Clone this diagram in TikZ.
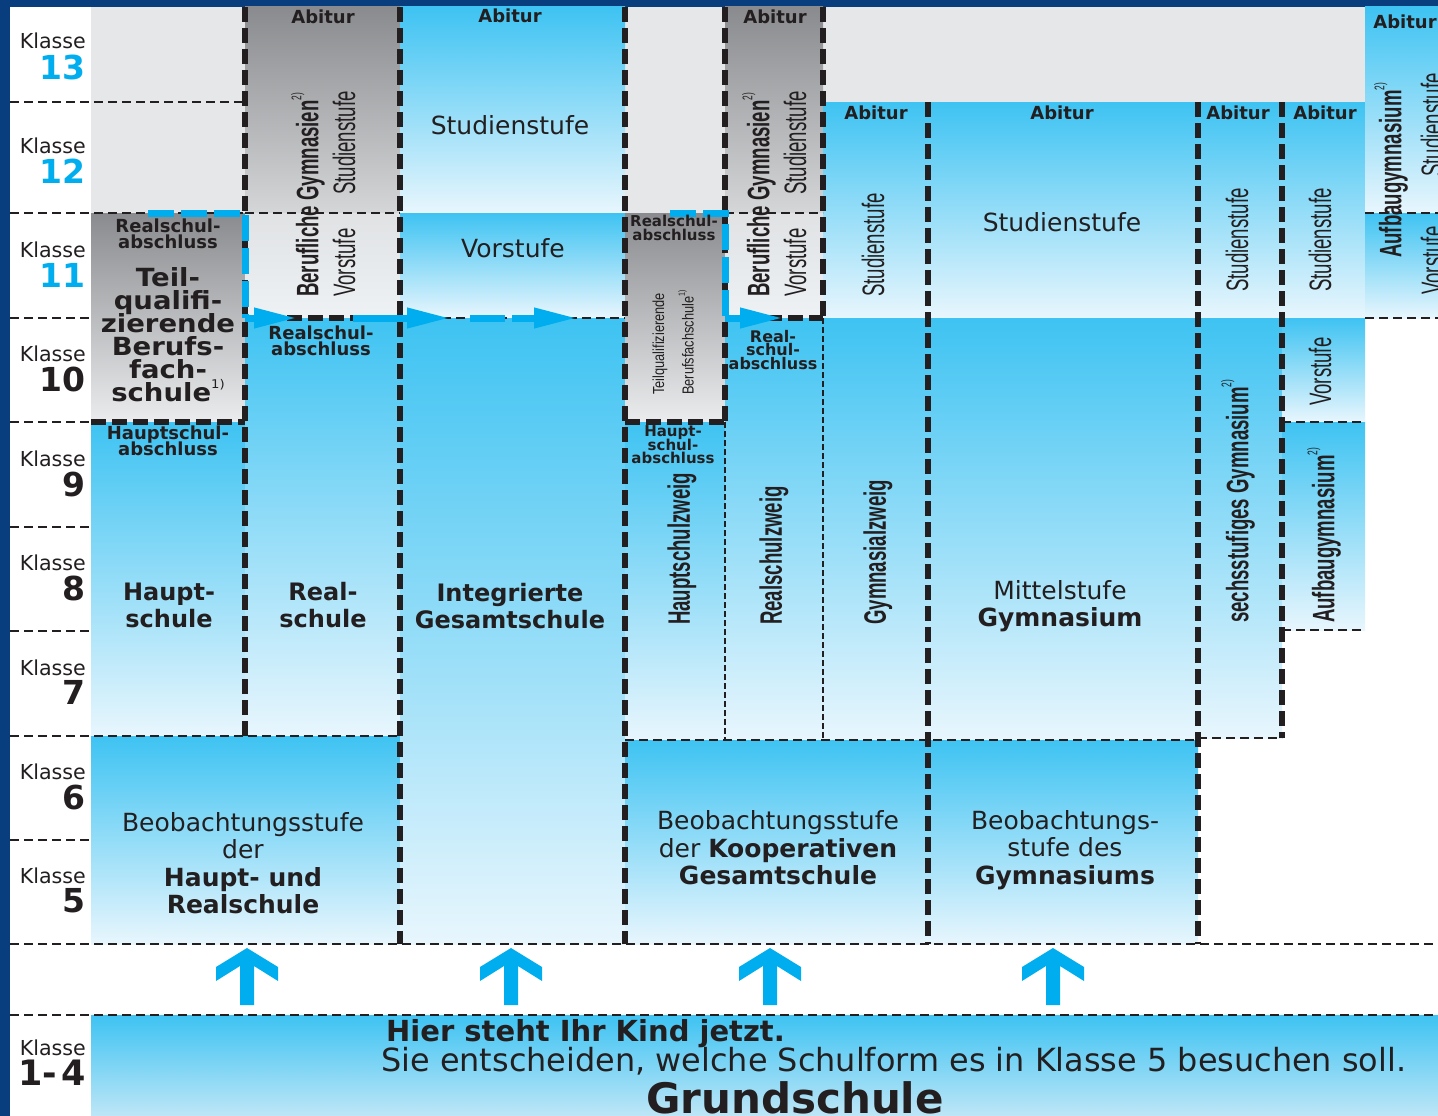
\documentclass[tikz,border=0pt]{standalone}
\usepackage{fontspec}
\setmainfont{DejaVu Sans}
\newfontfamily\condf{Liberation Sans}[FakeStretch=0.6]
\newfontfamily\condg{Liberation Sans}[FakeStretch=0.8]
\newfontfamily\widef{DejaVu Sans}[FakeStretch=1.1]
\usetikzlibrary{arrows.meta}
\newcommand\fsz[2]{\fontsize{#1}{#2}\selectfont\lineskiplimit=-100pt\relax}
\newcommand\sups[2][11]{\raisebox{0.55em}{\mdseries\fontsize{#1}{#1}\selectfont #2}}
\definecolor{cyanT}{RGB}{62,195,242}
\definecolor{cyanB}{RGB}{232,246,253}
\definecolor{grayT}{RGB}{138,139,142}
\definecolor{grayB}{RGB}{234,236,238}
\definecolor{grayM}{RGB}{212,214,216}
\definecolor{vorT}{RGB}{224,226,228}
\definecolor{vorB}{RGB}{238,242,245}
\definecolor{bgGray}{RGB}{230,231,233}
\definecolor{navy}{RGB}{8,62,125}
\definecolor{arr}{RGB}{0,174,239}
\definecolor{txt}{RGB}{35,31,32}
\tikzset{
  t/.style={inner sep=0pt, text=txt, align=center},
  lblK/.style={t, anchor=east, font=\fsz{20.6}{22}},
  lblN/.style={t, anchor=east, font=\bfseries\fsz{33}{33}},
  lblC/.style={lblN, text=arr},
  abi/.style={t, font=\bfseries\fsz{18}{18}},
  smallb/.style={t, font=\bfseries\fsz{18}{16}},
  tinyb/.style={t, font=\bfseries\fsz{15}{13.5}},
  tinyc/.style={t, font=\bfseries\fsz{16}{13.5}},
  midr/.style={t, font=\fsz{25}{27.5}},
  midb/.style={t, font=\bfseries\fsz{24}{27}},
  bigb/.style={t, font=\widef\bfseries\fsz{25}{23}},
  rotb/.style={t, rotate=90, anchor=west, font=\condf\bfseries\fsz{31}{31}},
  rotr/.style={t, rotate=90, anchor=west, font=\condf\fsz{31}{31}},
  rots/.style={t, rotate=90, anchor=west, font=\condg\fsz{16}{16}},
  cy/.style={top color=cyanT, bottom color=cyanB},
  gy/.style={top color=grayT, bottom color=grayB},
  gy2/.style={top color=grayT, bottom color=grayM},
  vo/.style={top color=vorT, bottom color=vorB},
  tkd/.style={line width=6pt, dash pattern=on 15pt off 6pt, draw=txt},
  tnd/.style={line width=2pt, dash pattern=on 9pt off 5pt, draw=txt},
  tnf/.style={line width=1.6pt, dash pattern=on 6pt off 3pt, draw=txt},
  bl/.style={line width=7pt, draw=arr, dash pattern=on 26pt off 7pt},
  bls/.style={line width=7pt, draw=arr},
  tip/.style={-{Triangle[length=43pt,width=19pt]}},
}
\begin{document}
\begin{tikzpicture}[x=1pt,y=-1pt]
\useasboundingbox (0,0) rectangle (1438,1116);
\clip (0,0) rectangle (1438,1116);
\fill[white] (0,0) rectangle (1438,1116);
% frame
\fill[navy] (0,0) rectangle (10,1116);
\fill[navy] (0,0) rectangle (1438,7);
% light gray backgrounds
\fill[bgGray] (91,7) rectangle (245,213);
\fill[bgGray] (625,7) rectangle (725,213);
\fill[bgGray] (823,7) rectangle (1365,102);
% column A
\shade[gy] (91,213) rectangle (245,422);
\shade[cy] (91,422) rectangle (245,736);
% column B
\shade[gy2] (245,7) rectangle (400,213);
\shade[vo] (245,213) rectangle (400,318);
\shade[cy] (245,318) rectangle (400,736);
\shade[cy] (91,736) rectangle (400,944);
% column C
\shade[cy] (400,7) rectangle (625,213);
\shade[cy] (400,213) rectangle (625,318);
\shade[cy] (400,318) rectangle (625,944);
% column D
\shade[gy] (625,213) rectangle (725,422);
\shade[cy] (625,422) rectangle (725,740);
% column E
\shade[gy2] (725,7) rectangle (823,213);
\shade[vo] (725,213) rectangle (823,318);
\shade[cy] (725,318) rectangle (823,740);
% column F
\shade[cy] (823,102) rectangle (928,318);
\shade[cy] (823,318) rectangle (928,740);
\shade[cy] (625,740) rectangle (928,944);
% column G
\shade[cy] (928,102) rectangle (1198,318);
\shade[cy] (928,318) rectangle (1198,740);
\shade[cy] (928,740) rectangle (1198,944);
% column H
\shade[cy] (1198,102) rectangle (1282,318);
\shade[cy] (1198,318) rectangle (1282,738);
% column I
\shade[cy] (1282,102) rectangle (1365,318);
\shade[cy] (1282,318) rectangle (1365,422);
\shade[cy] (1282,422) rectangle (1365,630);
% column J
\shade[cy] (1365,7) rectangle (1450,213);
\shade[cy] (1365,213) rectangle (1450,318);
% Grundschule
\shade[top color=cyanT, bottom color={rgb,255:red,190;green,230;blue,247}] (91,1015) rectangle (1450,1116);

% thin dashed lines
\draw[tnd] (10,102) -- (245,102);
\draw[tnd] (10,213) -- (245,213);
\draw[tnd] (10,318) -- (91,318);
\draw[tnd] (10,422) -- (91,422);
\draw[tnd] (10,527) -- (91,527);
\draw[tnd] (10,631) -- (91,631);
\draw[tnd] (10,736) -- (400,736);
\draw[tnd] (10,840) -- (91,840);
\draw[tnd] (10,944) -- (1438,944);
\draw[tnd] (10,1015) -- (1438,1015);
\draw[tnd] (245,213) -- (400,213);
\draw[tnd] (725,213) -- (823,213);
\draw[tnd] (1365,213) -- (1438,213);
\draw[tnd] (400,318) -- (625,318);
\draw[tnd] (1365,318) -- (1438,318);
\draw[tnd] (1282,422) -- (1365,422);
\draw[tnd] (1282,630) -- (1365,630);
\draw[tnd] (625,740) -- (1198,740);
\draw[tnd] (1198,738) -- (1282,738);
\draw[tnf] (725,422) -- (725,740);
\draw[tnf] (823,318) -- (823,740);
% thick dashed lines
\draw[tkd] (245,7) -- (245,736);
\draw[tkd] (400,7) -- (400,944);
\draw[tkd] (625,7) -- (625,944);
\draw[tkd] (725,7) -- (725,422);
\draw[tkd] (823,7) -- (823,318);
\draw[tkd] (928,102) -- (928,944);
\draw[tkd] (1198,102) -- (1198,944);
\draw[tkd] (1282,102) -- (1282,738);
\draw[tkd] (91,422) -- (245,422);
\draw[tkd] (245,318) -- (400,318);
\draw[tkd] (625,422) -- (725,422);
\draw[tkd] (725,318) -- (823,318);

% blue transfer paths
\coordinate (a1) at (148,213);
\coordinate (a2) at (245,213);
\coordinate (a3) at (245,318);
\coordinate (a4) at (297,318);
\coordinate (a5) at (353,318);
\coordinate (a6) at (450,318);
\coordinate (a7) at (470,318);
\coordinate (a8) at (505,318);
\coordinate (a9) at (512,318);
\coordinate (a10) at (577,318);
\draw[bl] (a1) -- (a2) -- (a3);
\draw[bls,tip] (a3) -- (a4);
\draw[bls,tip] (a5) -- (a6);
\draw[bls] (a7) -- (a8);
\draw[bls,tip] (a9) -- (a10);
\coordinate (d1) at (670,213);
\coordinate (d2) at (725,213);
\coordinate (d3) at (725,318);
\coordinate (d4) at (783,318);
\draw[bl] (d1) -- (d2) -- (d3);
\draw[bls,tip] (d3) -- (d4);

% up arrows
\foreach \x in {247,511,770,1053}
  \fill[arr] (\x,948) -- (\x+31,967) -- (\x+31,981) -- (\x+7,966) -- (\x+7,1005)
    -- (\x-7,1005) -- (\x-7,966) -- (\x-31,981) -- (\x-31,967) -- cycle;

% class labels
\node[lblK] (k13) at (86,41) {Klasse};  \node[lblC] (n13) at (86,67) {13};
\node[lblK] (k12) at (86,146) {Klasse}; \node[lblC] (n12) at (86,171) {12};
\node[lblK] (k11) at (86,250) {Klasse}; \node[lblC] (n11) at (86,275) {11};
\node[lblK] (k10) at (86,354) {Klasse}; \node[lblN] (n10) at (86,379) {10};
\node[lblK] (k9) at (86,459) {Klasse};  \node[lblN] (n9) at (86,484) {9};
\node[lblK] (k8) at (86,563) {Klasse};  \node[lblN] (n8) at (86,588) {8};
\node[lblK] (k7) at (86,668) {Klasse};  \node[lblN] (n7) at (86,692) {7};
\node[lblK] (k6) at (86,772) {Klasse};  \node[lblN] (n6) at (86,797) {6};
\node[lblK] (k5) at (86,876) {Klasse};  \node[lblN] (n5) at (86,901) {5};
\node[lblK] (k14) at (86,1048) {Klasse}; \node[lblN, font=\bfseries\fsz{35}{35}] (n14) at (86,1073) {1-\kern4pt4};

% column A
\node[smallb] (aRA) at (168,234) {Realschul-\\abschluss};
\node[bigb] (aTQ) at (168,335) {Teil-\\qualifi-\\zierende\\Berufs-\\fach-\\schule\sups[12]{1)}};
\node[smallb] (aHA) at (168,441) {Hauptschul-\\abschluss};
\node[midb] (aHS) at (169,605) {Haupt-\\schule};
% column B
\node[abi] (bAb) at (323,17) {Abitur};
\node[rotb] (bBG) at (308,297) {Berufliche Gymnasien\sups[14]{2)}};
\node[rotr] (bSt) at (344,195) {Studienstufe};
\node[rotr] (bVo) at (344,297) {Vorstufe};
\node[smallb] (bRA) at (321,341) {Realschul-\\abschluss};
\node[midb] (bRS) at (323,605) {Real-\\schule};
\node[midr] (abBeo) at (243,863) {Beobachtungsstufe\\der\\\textbf{Haupt- und}\\\textbf{Realschule}};
% column C
\node[abi] (cAb) at (510,16) {Abitur};
\node[midr] (cSt) at (510,125) {Studienstufe};
\node[midr] (cVo) at (513,248) {Vorstufe};
\node[midb] (cIG) at (510,606) {Integrierte\\Gesamtschule};
% column D
\node[tinyb] (dRA) at (674,228) {Realschul-\\abschluss};
\node[rots] (dT1) at (660,395) {Teilqualifizierende};
\node[rots] (dT2) at (686,395) {Berufsfachschule\sups[9]{1)}};
\node[tinyb] (dHA) at (673,445) {Haupt-\\schul-\\abschluss};
\node[rotb] (dHZ) at (682,625) {Hauptschulzweig};
% column E
\node[abi] (eAb) at (775,17) {Abitur};
\node[rotb] (eBG) at (759,297) {Berufliche Gymnasien\sups[14]{2)}};
\node[rotr] (eSt) at (795,195) {Studienstufe};
\node[rotr] (eVo) at (795,297) {Vorstufe};
\node[tinyc] (eRA) at (773,350) {Real-\\schul-\\abschluss};
\node[rotb] (eRZ) at (774,625) {Realschulzweig};
% column F
\node[abi] (fAb) at (876,113) {Abitur};
\node[rotr] (fSt) at (873,297) {Studienstufe};
\node[rotb] (fGZ) at (878,625) {Gymnasialzweig};
\node[midr] (kgsBeo) at (778,848) {Beobachtungsstufe\\der \textbf{Kooperativen}\\\textbf{Gesamtschule}};
% column G
\node[abi] (gAb) at (1062,113) {Abitur};
\node[midr] (gSt) at (1062,222) {Studienstufe};
\node[midr] (gMS) at (1060,606) {Mittelstufe\\\textbf{Gymnasium}};
\node[midr] (gBeo) at (1065,850) {Beobachtungs-\\stufe des\\\textbf{Gymnasiums}};
% column H
\node[abi] (hAb) at (1238,113) {Abitur};
\node[rotr] (hSt) at (1237,292) {Studienstufe};
\node[rotb] (hSG) at (1238,623) {sechsstufiges Gymnasium\sups[14]{2)}};
% column I
\node[abi] (iAb) at (1325,113) {Abitur};
\node[rotr] (iSt) at (1320,292) {Studienstufe};
\node[rotr] (iVo) at (1320,406) {Vorstufe};
\node[rotb] (iAG) at (1324,623) {Aufbaugymnasium\sups[14]{2)}};
% column J
\node[abi] (jAb) at (1405,22) {Abitur};
\node[rotb] (jAG) at (1391,258) {Aufbaugymnasium\sups[14]{2)}};
\node[rotr] (jSt) at (1432,177) {Studienstufe};
\node[rotr] (jVo) at (1432,295) {Vorstufe};
% Grundschule
\node[t, anchor=west, font=\bfseries\fsz{29}{30}] (gs1) at (386,1034) {Hier steht Ihr Kind jetzt.};
\node[t, anchor=west, font=\fsz{31.9}{32}] (gs2) at (381,1061) {Sie entscheiden, welche Schulform es in Klasse 5 besuchen soll.};
\node[t, font=\bfseries\fsz{42}{42}] (gs3) at (795,1098) {Grundschule};
\end{tikzpicture}
\end{document}
